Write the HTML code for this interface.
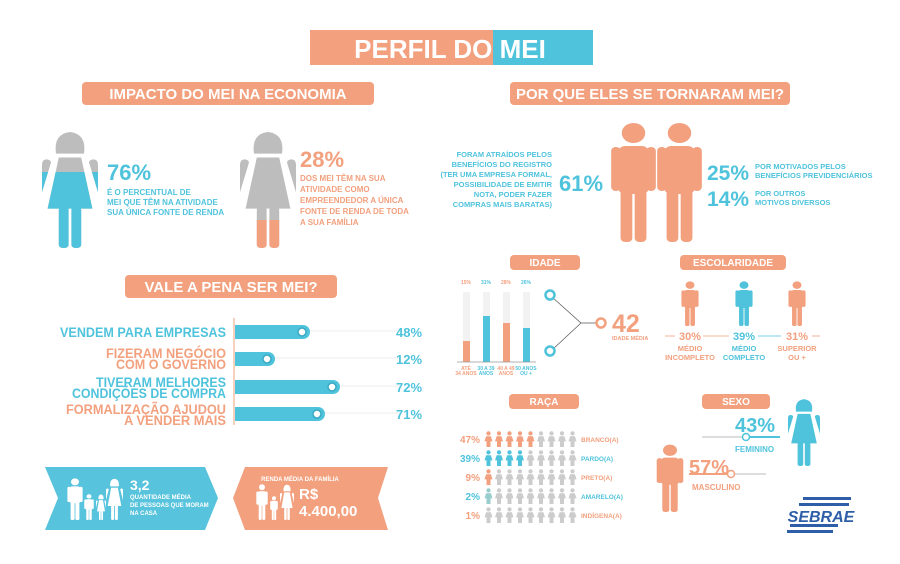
<!DOCTYPE html>
<html><head><meta charset="utf-8"><style>
html,body{margin:0;padding:0;background:#fff;width:900px;height:564px;overflow:hidden}
svg{display:block}
text{font-family:"Liberation Sans","DejaVu Sans",sans-serif;font-weight:bold}
</style></head><body>
<svg width="900" height="564" viewBox="0 0 900 564" xmlns="http://www.w3.org/2000/svg">
<defs>
<symbol id="man" viewBox="0 0 20 60">
<circle cx="10" cy="5.5" r="5"/>
<rect x="3.5" y="12" width="13" height="24" rx="3"/>
<rect x="0.5" y="12.5" width="4" height="22" rx="2"/>
<rect x="15.5" y="12.5" width="4" height="22" rx="2"/>
<rect x="4.5" y="30" width="5" height="30" rx="2"/>
<rect x="10.5" y="30" width="5" height="30" rx="2"/>
</symbol>
<symbol id="woman" viewBox="0 0 20 60">
<path d="M5 12 Q4 2 10 1 Q16 2 15 12 Z"/>
<path d="M6 14 L14 14 L18 40 L2 40 Z"/>
<rect x="0.5" y="15" width="3" height="18" rx="1.5" transform="rotate(12 2 15)"/>
<rect x="16.5" y="15" width="3" height="18" rx="1.5" transform="rotate(-12 18 15)"/>
<rect x="6" y="39" width="3.5" height="21" rx="1.5"/>
<rect x="10.5" y="39" width="3.5" height="21" rx="1.5"/>
</symbol>
<symbol id="sm" viewBox="0 0 10 20">
<circle cx="5" cy="3" r="2.7"/>
<path d="M2 6.5 H8 L10 13 H7.5 V20 H2.5 V13 H0 Z"/>
</symbol>
</defs>

<!-- Title -->
<rect x="310" y="30" width="183" height="35" fill="#f2a07e"/>
<rect x="493" y="30" width="100" height="35" fill="#4fc3dc"/>
<text x="450" y="58" font-size="26" fill="#fff" text-anchor="middle">PERFIL DO MEI</text>

<!-- Section pills -->
<rect x="82" y="82" width="292" height="23" rx="4" fill="#f2a07e"/>
<text x="228" y="99" font-size="15" fill="#fff" text-anchor="middle">IMPACTO DO MEI NA ECONOMIA</text>
<rect x="510" y="82" width="280" height="23" rx="4" fill="#f2a07e"/>
<text x="650" y="99" font-size="15" fill="#fff" text-anchor="middle">POR QUE ELES SE TORNARAM MEI?</text>

<!-- Women -->
<svg x="42" y="130" width="56" height="118" viewBox="0 0 20 60" preserveAspectRatio="none"><use href="#woman" fill="#bdbdbd"/></svg>
<clipPath id="c1"><rect x="40" y="172" width="60" height="80"/></clipPath>
<g clip-path="url(#c1)"><svg x="42" y="130" width="56" height="118" viewBox="0 0 20 60" preserveAspectRatio="none"><use href="#woman" fill="#4fc3dc"/></svg></g>
<text x="107" y="180" font-size="22" fill="#4fc3dc">76%</text>
<g font-size="8" fill="#4fc3dc"><text x="107" y="195">É O PERCENTUAL DE</text><text x="107" y="205">MEI QUE TÊM NA ATIVIDADE</text><text x="107" y="215">SUA ÚNICA FONTE DE RENDA</text></g>

<svg x="240" y="130" width="56" height="118" viewBox="0 0 20 60" preserveAspectRatio="none"><use href="#woman" fill="#bdbdbd"/></svg>
<clipPath id="c2"><rect x="235" y="220" width="65" height="30"/></clipPath>
<g clip-path="url(#c2)"><svg x="240" y="130" width="56" height="118" viewBox="0 0 20 60" preserveAspectRatio="none"><use href="#woman" fill="#f2a07e"/></svg></g>
<text x="300" y="167" font-size="22" fill="#f2a07e">28%</text>
<g font-size="8" fill="#f2a07e"><text x="300" y="181">DOS MEI TÊM NA SUA</text><text x="300" y="192">ATIVIDADE COMO</text><text x="300" y="203">EMPREENDEDOR A ÚNICA</text><text x="300" y="214">FONTE DE RENDA DE TODA</text><text x="300" y="225">A SUA FAMÍLIA</text></g>

<!-- Por que -->
<g font-size="7.5" fill="#4fc3dc" text-anchor="end"><text x="552" y="157">FORAM ATRAÍDOS PELOS</text><text x="552" y="167">BENEFÍCIOS DO REGISTRO</text><text x="552" y="177">(TER UMA EMPRESA FORMAL,</text><text x="552" y="187">POSSIBILIDADE DE EMITIR</text><text x="552" y="197">NOTA, PODER FAZER</text><text x="552" y="207">COMPRAS MAIS BARATAS)</text></g>
<text x="559" y="191" font-size="22" fill="#4fc3dc">61%</text>
<svg x="610" y="122" width="47" height="120" viewBox="0 0 20 60" preserveAspectRatio="none"><use href="#man" fill="#f2a07e"/></svg>
<svg x="656" y="122" width="47" height="120" viewBox="0 0 20 60" preserveAspectRatio="none"><use href="#man" fill="#f2a07e"/></svg>
<text x="707" y="180" font-size="21" fill="#4fc3dc">25%</text>
<g font-size="7.5" fill="#4fc3dc"><text x="755" y="169">POR MOTIVADOS PELOS</text><text x="755" y="178">BENEFÍCIOS PREVIDENCIÁRIOS</text></g>
<text x="707" y="206" font-size="21" fill="#4fc3dc">14%</text>
<g font-size="7.5" fill="#4fc3dc"><text x="755" y="196">POR OUTROS</text><text x="755" y="205">MOTIVOS DIVERSOS</text></g>

<!-- Vale a pena -->
<rect x="125" y="275" width="212" height="23" rx="4" fill="#f2a07e"/>
<text x="231" y="292" font-size="15" fill="#fff" text-anchor="middle">VALE A PENA SER MEI?</text>
<line x1="234" y1="318" x2="234" y2="425" stroke="#f2a07e" stroke-width="1"/>
<g stroke="#eee" stroke-width="1"><line x1="235" y1="331" x2="400" y2="331"/><line x1="235" y1="358" x2="400" y2="358"/><line x1="235" y1="386" x2="400" y2="386"/><line x1="235" y1="413" x2="400" y2="413"/></g>
<g fill="#4fc3dc">
<path d="M235 325 H303 a7 7 0 0 1 0 14 H235 Z"/>
<path d="M235 352 H268 a7 7 0 0 1 0 14 H235 Z"/>
<path d="M235 380 H333 a7 7 0 0 1 0 14 H235 Z"/>
<path d="M235 407 H318 a7 7 0 0 1 0 14 H235 Z"/>
</g>
<g fill="#fff" stroke="#3aa9c2" stroke-width="1.5"><circle cx="302" cy="332" r="4"/><circle cx="267" cy="359" r="4"/><circle cx="332" cy="387" r="4"/><circle cx="317" cy="414" r="4"/></g>
<g font-size="13.5" text-anchor="end" lengthAdjust="spacingAndGlyphs">
<text x="226" y="337" fill="#4fc3dc" textLength="166" lengthAdjust="spacingAndGlyphs">VENDEM PARA EMPRESAS</text>
<text x="226" y="358" fill="#f2a07e" textLength="120" lengthAdjust="spacingAndGlyphs">FIZERAM NEGÓCIO</text><text x="226" y="369" fill="#f2a07e" textLength="110" lengthAdjust="spacingAndGlyphs">COM O GOVERNO</text>
<text x="226" y="387" fill="#4fc3dc" textLength="130" lengthAdjust="spacingAndGlyphs">TIVERAM MELHORES</text><text x="226" y="398" fill="#4fc3dc" textLength="154" lengthAdjust="spacingAndGlyphs">CONDIÇÕES DE COMPRA</text>
<text x="226" y="414" fill="#f2a07e" textLength="160" lengthAdjust="spacingAndGlyphs">FORMALIZAÇÃO AJUDOU</text><text x="226" y="425" fill="#f2a07e" textLength="102" lengthAdjust="spacingAndGlyphs">A VENDER MAIS</text>
</g>
<g font-size="13" fill="#4fc3dc"><text x="396" y="337">48%</text><text x="396" y="364">12%</text><text x="396" y="392">72%</text><text x="396" y="419">71%</text></g>

<!-- Bottom banners -->
<path d="M45 467 H205 L218 498 L205 530 H45 L58 498 Z" fill="#57c3dc"/>
<svg x="67" y="478" width="16" height="42" viewBox="0 0 20 60" preserveAspectRatio="none"><use href="#man" fill="#fff"/></svg>
<svg x="84" y="494" width="10" height="26" viewBox="0 0 20 60" preserveAspectRatio="none"><use href="#man" fill="#fff"/></svg>
<svg x="96" y="494" width="10" height="26" viewBox="0 0 20 60" preserveAspectRatio="none"><use href="#woman" fill="#fff"/></svg>
<svg x="106" y="478" width="17" height="42" viewBox="0 0 20 60" preserveAspectRatio="none"><use href="#woman" fill="#fff"/></svg>
<text x="130" y="490" font-size="14" fill="#fff">3,2</text>
<g font-size="6" fill="#fff"><text x="130" y="499">QUANTIDADE MÉDIA</text><text x="130" y="507">DE PESSOAS QUE MORAM</text><text x="130" y="515">NA CASA</text></g>

<path d="M245 467 H388 L378 498 L388 530 H245 L233 498 Z" fill="#f2a07e"/>
<text x="300" y="481" font-size="6" fill="#fff" text-anchor="middle">RENDA MÉDIA DA FAMÍLIA</text>
<svg x="256" y="484" width="12" height="36" viewBox="0 0 20 60" preserveAspectRatio="none"><use href="#man" fill="#fff"/></svg>
<svg x="270" y="496" width="8" height="24" viewBox="0 0 20 60" preserveAspectRatio="none"><use href="#man" fill="#fff"/></svg>
<svg x="280" y="484" width="14" height="36" viewBox="0 0 20 60" preserveAspectRatio="none"><use href="#woman" fill="#fff"/></svg>
<text x="299" y="499" font-size="15" fill="#fff">R$</text>
<text x="299" y="516" font-size="15" fill="#fff">4.400,00</text>

<!-- IDADE -->
<rect x="510" y="255" width="70" height="15" rx="4" fill="#f2a07e"/>
<text x="545" y="266" font-size="10" fill="#fff" text-anchor="middle">IDADE</text>
<g fill="#f2f2f2"><rect x="463" y="292" width="7" height="70"/><rect x="483" y="292" width="7" height="70"/><rect x="503" y="292" width="7" height="70"/><rect x="523" y="292" width="7" height="70"/></g>
<rect x="463" y="341" width="7" height="21" fill="#f2a07e"/>
<rect x="483" y="316" width="7" height="46" fill="#4fc3dc"/>
<rect x="503" y="323" width="7" height="39" fill="#f2a07e"/>
<rect x="523" y="328" width="7" height="34" fill="#4fc3dc"/>
<line x1="457" y1="362" x2="536" y2="362" stroke="#999" stroke-width="0.7"/>
<g font-size="5" text-anchor="middle"><text x="466" y="284" fill="#f2a07e">15%</text><text x="486" y="284" fill="#4fc3dc">31%</text><text x="506" y="284" fill="#f2a07e">28%</text><text x="526" y="284" fill="#4fc3dc">26%</text>
<text x="466" y="370" fill="#f2a07e">ATÉ</text><text x="466" y="375" fill="#f2a07e">34 ANOS</text><text x="486" y="370" fill="#4fc3dc">30 A 39</text><text x="486" y="375" fill="#4fc3dc">ANOS</text><text x="506" y="370" fill="#f2a07e">40 A 49</text><text x="506" y="375" fill="#f2a07e">ANOS</text><text x="526" y="370" fill="#4fc3dc">50 ANOS</text><text x="526" y="375" fill="#4fc3dc">OU +</text></g>
<path d="M552 297 L581 323 L596 323 M552 350 L581 323" fill="none" stroke="#555" stroke-width="0.7"/>
<g fill="#fff" stroke-width="2.5"><circle cx="550" cy="295" r="4.5" stroke="#4fc3dc"/><circle cx="550" cy="351" r="4.5" stroke="#4fc3dc"/><circle cx="601" cy="323" r="4.5" stroke="#f2a07e"/></g>
<text x="612" y="332" font-size="25" fill="#f2a07e">42</text>
<text x="612" y="340" font-size="5.5" fill="#f2a07e">IDADE MÉDIA</text>

<!-- ESCOLARIDADE -->
<rect x="680" y="255" width="106" height="15" rx="4" fill="#f2a07e"/>
<text x="733" y="266" font-size="10" fill="#fff" text-anchor="middle">ESCOLARIDADE</text>
<svg x="681" y="281" width="18" height="45" viewBox="0 0 20 60" preserveAspectRatio="none"><use href="#man" fill="#f2a07e"/></svg>
<svg x="735" y="281" width="18" height="45" viewBox="0 0 20 60" preserveAspectRatio="none"><use href="#man" fill="#4fc3dc"/></svg>
<svg x="788" y="281" width="18" height="45" viewBox="0 0 20 60" preserveAspectRatio="none"><use href="#man" fill="#f2a07e"/></svg>
<g stroke-width="0.8"><line x1="665" y1="336" x2="675" y2="336" stroke="#f2a07e"/><line x1="703" y1="336" x2="729" y2="336" stroke="#f2a07e"/><line x1="758" y1="336" x2="781" y2="336" stroke="#4fc3dc"/><line x1="812" y1="336" x2="820" y2="336" stroke="#f2a07e"/></g>
<g font-size="11" text-anchor="middle"><text x="690" y="340" fill="#f2a07e">30%</text><text x="744" y="340" fill="#4fc3dc">39%</text><text x="797" y="340" fill="#f2a07e">31%</text></g>
<g font-size="7.5" text-anchor="middle"><text x="690" y="351" fill="#f2a07e">MÉDIO</text><text x="690" y="360" fill="#f2a07e">INCOMPLETO</text><text x="744" y="351" fill="#4fc3dc">MÉDIO</text><text x="744" y="360" fill="#4fc3dc">COMPLETO</text><text x="797" y="351" fill="#f2a07e">SUPERIOR</text><text x="797" y="360" fill="#f2a07e">OU +</text></g>

<!-- RAÇA -->
<rect x="509" y="394" width="70" height="15" rx="4" fill="#f2a07e"/>
<text x="544" y="405" font-size="10" fill="#fff" text-anchor="middle">RAÇA</text>
<g font-size="10" text-anchor="end"><text x="480" y="443" fill="#f2a07e">47%</text><text x="480" y="462" fill="#4fc3dc">39%</text><text x="480" y="481" fill="#f2a07e">9%</text><text x="480" y="500" fill="#4fc3dc">2%</text><text x="480" y="519" fill="#f2a07e">1%</text></g>
<g font-size="6.5"><text x="581" y="442" fill="#f2a07e">BRANCO(A)</text><text x="581" y="461" fill="#4fc3dc">PARDO(A)</text><text x="581" y="480" fill="#f2a07e">PRETO(A)</text><text x="581" y="499" fill="#4fc3dc">AMARELO(A)</text><text x="581" y="518" fill="#f2a07e">INDÍGENA(A)</text></g>
<g>
<svg x="484" y="431" width="9" height="16"><use href="#sm" fill="#f2a07e"/></svg><svg x="494.5" y="431" width="9" height="16"><use href="#sm" fill="#f2a07e"/></svg><svg x="505" y="431" width="9" height="16"><use href="#sm" fill="#f2a07e"/></svg><svg x="515.5" y="431" width="9" height="16"><use href="#sm" fill="#f2a07e"/></svg><svg x="526" y="431" width="9" height="16"><use href="#sm" fill="#f2a07e"/></svg><svg x="536.5" y="431" width="9" height="16"><use href="#sm" fill="#ccc"/></svg><svg x="547" y="431" width="9" height="16"><use href="#sm" fill="#ccc"/></svg><svg x="557.5" y="431" width="9" height="16"><use href="#sm" fill="#ccc"/></svg><svg x="568" y="431" width="9" height="16"><use href="#sm" fill="#ccc"/></svg>
</g>
<g>
<svg x="484" y="450" width="9" height="16"><use href="#sm" fill="#4fc3dc"/></svg><svg x="494.5" y="450" width="9" height="16"><use href="#sm" fill="#4fc3dc"/></svg><svg x="505" y="450" width="9" height="16"><use href="#sm" fill="#4fc3dc"/></svg><svg x="515.5" y="450" width="9" height="16"><use href="#sm" fill="#4fc3dc"/></svg><svg x="526" y="450" width="9" height="16"><use href="#sm" fill="#ccc"/></svg><svg x="536.5" y="450" width="9" height="16"><use href="#sm" fill="#ccc"/></svg><svg x="547" y="450" width="9" height="16"><use href="#sm" fill="#ccc"/></svg><svg x="557.5" y="450" width="9" height="16"><use href="#sm" fill="#ccc"/></svg><svg x="568" y="450" width="9" height="16"><use href="#sm" fill="#ccc"/></svg>
</g>
<g>
<svg x="484" y="469" width="9" height="16"><use href="#sm" fill="#f2a07e"/></svg><svg x="494.5" y="469" width="9" height="16"><use href="#sm" fill="#ccc"/></svg><svg x="505" y="469" width="9" height="16"><use href="#sm" fill="#ccc"/></svg><svg x="515.5" y="469" width="9" height="16"><use href="#sm" fill="#ccc"/></svg><svg x="526" y="469" width="9" height="16"><use href="#sm" fill="#ccc"/></svg><svg x="536.5" y="469" width="9" height="16"><use href="#sm" fill="#ccc"/></svg><svg x="547" y="469" width="9" height="16"><use href="#sm" fill="#ccc"/></svg><svg x="557.5" y="469" width="9" height="16"><use href="#sm" fill="#ccc"/></svg><svg x="568" y="469" width="9" height="16"><use href="#sm" fill="#ccc"/></svg>
</g>
<g>
<svg x="484" y="488" width="9" height="16"><use href="#sm" fill="#9cc"/></svg><svg x="494.5" y="488" width="9" height="16"><use href="#sm" fill="#ccc"/></svg><svg x="505" y="488" width="9" height="16"><use href="#sm" fill="#ccc"/></svg><svg x="515.5" y="488" width="9" height="16"><use href="#sm" fill="#ccc"/></svg><svg x="526" y="488" width="9" height="16"><use href="#sm" fill="#ccc"/></svg><svg x="536.5" y="488" width="9" height="16"><use href="#sm" fill="#ccc"/></svg><svg x="547" y="488" width="9" height="16"><use href="#sm" fill="#ccc"/></svg><svg x="557.5" y="488" width="9" height="16"><use href="#sm" fill="#ccc"/></svg><svg x="568" y="488" width="9" height="16"><use href="#sm" fill="#ccc"/></svg>
</g>
<g>
<svg x="484" y="507" width="9" height="16"><use href="#sm" fill="#ccc"/></svg><svg x="494.5" y="507" width="9" height="16"><use href="#sm" fill="#ccc"/></svg><svg x="505" y="507" width="9" height="16"><use href="#sm" fill="#ccc"/></svg><svg x="515.5" y="507" width="9" height="16"><use href="#sm" fill="#ccc"/></svg><svg x="526" y="507" width="9" height="16"><use href="#sm" fill="#ccc"/></svg><svg x="536.5" y="507" width="9" height="16"><use href="#sm" fill="#ccc"/></svg><svg x="547" y="507" width="9" height="16"><use href="#sm" fill="#ccc"/></svg><svg x="557.5" y="507" width="9" height="16"><use href="#sm" fill="#ccc"/></svg><svg x="568" y="507" width="9" height="16"><use href="#sm" fill="#ccc"/></svg>
</g>

<!-- SEXO -->
<rect x="702" y="394" width="68" height="15" rx="4" fill="#f2a07e"/>
<text x="736" y="405" font-size="10" fill="#fff" text-anchor="middle">SEXO</text>
<svg x="788" y="398" width="32" height="68" viewBox="0 0 20 60" preserveAspectRatio="none"><use href="#woman" fill="#4fc3dc"/></svg>
<text x="735" y="432" font-size="20" fill="#4fc3dc">43%</text>
<line x1="702" y1="437" x2="780" y2="437" stroke="#ddd" stroke-width="2"/>
<line x1="746" y1="437" x2="780" y2="437" stroke="#4fc3dc" stroke-width="2"/>
<circle cx="746" cy="437" r="3.5" fill="#fff" stroke="#4fc3dc" stroke-width="1.5"/>
<text x="735" y="452" font-size="8" fill="#4fc3dc">FEMININO</text>
<svg x="656" y="444" width="28" height="68" viewBox="0 0 20 60" preserveAspectRatio="none"><use href="#man" fill="#f2a07e"/></svg>
<text x="689" y="474" font-size="20" fill="#f2a07e">57%</text>
<line x1="689" y1="474" x2="766" y2="474" stroke="#ddd" stroke-width="2"/>
<line x1="689" y1="474" x2="731" y2="474" stroke="#f2a07e" stroke-width="2"/>
<circle cx="731" cy="474" r="3.5" fill="#fff" stroke="#f2a07e" stroke-width="1.5"/>
<text x="692" y="490" font-size="8" fill="#f2a07e">MASCULINO</text>

<!-- SEBRAE -->
<g fill="#2e5ea8"><rect x="803" y="497" width="48" height="3"/><rect x="799" y="503" width="50" height="3"/><rect x="790" y="524" width="48" height="3"/><rect x="787" y="530" width="46" height="3"/></g>
<text x="821" y="522" font-size="16" fill="#2e5ea8" text-anchor="middle" font-style="italic">SEBRAE</text>
</svg>
</body></html>
